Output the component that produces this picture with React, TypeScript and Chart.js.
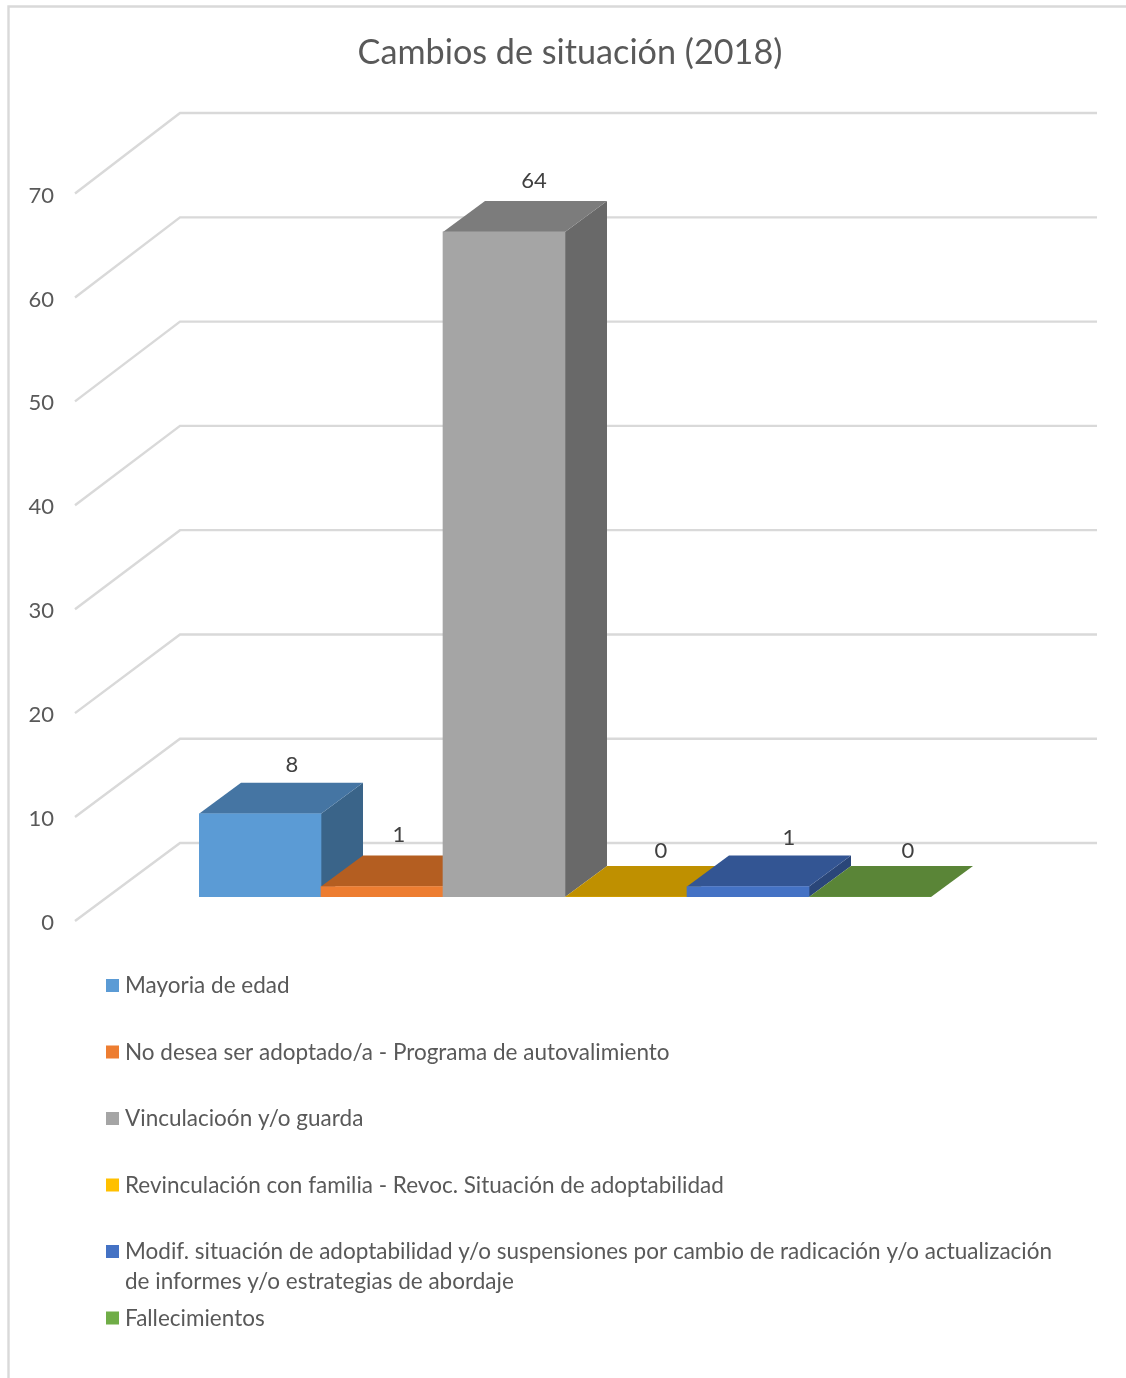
import React, { useEffect, useRef } from "react";
import { Chart, registerables } from "chart.js";

Chart.register(...registerables);

const titleText = "Cambios de situación (2018)";
const categories = [
  "Mayoria de edad",
  "No desea ser adoptado/a - Programa de autovalimiento",
  "Vinculacioón y/o guarda",
  "Revinculación con familia - Revoc. Situación de adoptabilidad",
  "Modif. situación de adoptabilidad y/o suspensiones por cambio de radicación y/o actualización de informes y/o estrategias de abordaje",
  "Fallecimientos",
];
const values = [8, 1, 64, 0, 1, 0];
const frontColors = ["#5B9BD5", "#ED7D31", "#A5A5A5", "#FFC000", "#4472C4", "#70AD47"];
const topColors = ["#4575A3", "#B45E21", "#7C7C7C", "#BF9000", "#335593", "#5A8537"];
const sideColors = ["#3A6489", "#984F1F", "#696969", "#A37A00", "#2A4679", "#4B702E"];
const labelNudgeX = [32, 17, 30, 35, 41, 38];
const labelNudgeY = [-49, -52, -51, -46, -49, -46];

const FONT = "Lato, Carlito, sans-serif";
const GRID = "#D9D9D9";
const TEXT = "#595959";
const DEPTH_X = 42;
const DEPTH_Y = 31;
const WALL_SCALE = 1.0034;

function face(ctx: CanvasRenderingContext2D, pts: number[][], color: string) {
  ctx.fillStyle = color;
  ctx.beginPath();
  pts.forEach(([x, y], i) => (i ? ctx.lineTo(x, y) : ctx.moveTo(x, y)));
  ctx.closePath();
  ctx.fill();
}

const frame3d = {
  id: "frame3d",
  beforeDraw(chart: any) {
    const { ctx, scales } = chart;
    ctx.save();
    ctx.fillStyle = "#FFFFFF";
    ctx.fillRect(0, 0, chart.width, chart.height);
    ctx.strokeStyle = GRID;
    ctx.lineWidth = 2.4;
    ctx.beginPath();
    ctx.moveTo(1126, 6.5);
    ctx.lineTo(8.5, 6.5);
    ctx.lineTo(8.5, 1378);
    ctx.stroke();
    const zero = scales.y.getPixelForValue(0);
    scales.y.ticks.forEach((t: any) => {
      const p = scales.y.getPixelForValue(t.value);
      const back = zero - 54 - (zero - p) * WALL_SCALE;
      ctx.beginPath();
      ctx.moveTo(75, p + 24);
      ctx.lineTo(180, back);
      ctx.lineTo(1097, back);
      ctx.stroke();
    });
    ctx.restore();
  },
  beforeDatasetsDraw(chart: any) {
    const { ctx } = chart;
    const bars = chart.getDatasetMeta(0).data;
    ctx.save();
    bars.forEach((b: any, i: number) => {
      const l = b.x - b.width / 2;
      const r = b.x + b.width / 2;
      const top = b.y;
      const base = b.base;
      face(ctx, [[r, top], [r + DEPTH_X, top - DEPTH_Y], [r + DEPTH_X, base - DEPTH_Y], [r, base]], sideColors[i]);
      face(ctx, [[l, top], [l + DEPTH_X, top - DEPTH_Y], [r + DEPTH_X, top - DEPTH_Y], [r, top]], topColors[i]);
    });
    ctx.restore();
  },
  afterDatasetsDraw(chart: any) {
    const { ctx } = chart;
    const bars = chart.getDatasetMeta(0).data;
    ctx.save();
    ctx.font = `22px ${FONT}`;
    ctx.fillStyle = "#404040";
    ctx.textAlign = "center";
    ctx.textBaseline = "middle";
    bars.forEach((b: any, i: number) => {
      ctx.fillText(String(values[i]), b.x + labelNudgeX[i], b.y + labelNudgeY[i]);
    });
    ctx.restore();
  },
  afterDraw(chart: any) {
    const { ctx } = chart;
    ctx.save();
    ctx.font = `22.5px ${FONT}`;
    ctx.textBaseline = "middle";
    ctx.textAlign = "left";
    categories.forEach((label, i) => {
      const y = 986 + i * 66.5;
      ctx.fillStyle = frontColors[i];
      ctx.fillRect(106, y - 7, 13, 13);
      const lines: string[] = [];
      let cur = "";
      label.split(" ").forEach((w) => {
        const next = cur ? cur + " " + w : w;
        if (ctx.measureText(next).width > 930 && cur) {
          lines.push(cur);
          cur = w;
        } else cur = next;
      });
      lines.push(cur);
      ctx.fillStyle = TEXT;
      lines.forEach((ln, k) => ctx.fillText(ln, 125, y + k * 30));
    });
    ctx.restore();
  },
};

export default function App() {
  const ref = useRef<HTMLCanvasElement | null>(null);
  useEffect(() => {
    const chart = new Chart(ref.current!, {
      type: "bar",
      data: {
        labels: categories,
        datasets: [
          {
            data: values,
            backgroundColor: frontColors,
            borderWidth: 0,
            barPercentage: 1,
            categoryPercentage: 1,
          },
        ],
      },
      options: {
        animation: false,
        responsive: false,
        devicePixelRatio: 1,
        layout: { padding: { left: 14, right: 0, top: 0, bottom: 481 } },
        plugins: {
          legend: { display: false },
          tooltip: { enabled: false },
          title: {
            display: true,
            text: titleText,
            color: TEXT,
            font: { family: FONT, size: 34.2, weight: "normal" },
            padding: { top: 32.5, bottom: 96 },
          },
        },
        scales: {
          x: { display: false },
          y: {
            min: 0,
            max: 70,
            afterFit: (s: any) => {
              s.width = 185;
            },
            grid: { display: false, drawTicks: false },
            border: { display: false },
            ticks: {
              stepSize: 10,
              color: TEXT,
              padding: 145,
              labelOffset: 26,
              font: { family: FONT, size: 22 },
            },
          },
          yRight: {
            position: "right",
            afterFit: (s: any) => {
              s.width = 195;
            },
            grid: { display: false, drawTicks: false },
            border: { display: false },
            ticks: { display: false },
          },
        },
      } as any,
      plugins: [frame3d],
    });
    return () => chart.destroy();
  }, []);
  return (
    <div style={{ position: "absolute", left: 0, top: 0, width: 1126, height: 1378 }}>
      <canvas ref={ref} width={1126} height={1378} style={{ display: "block" }} />
    </div>
  );
}
